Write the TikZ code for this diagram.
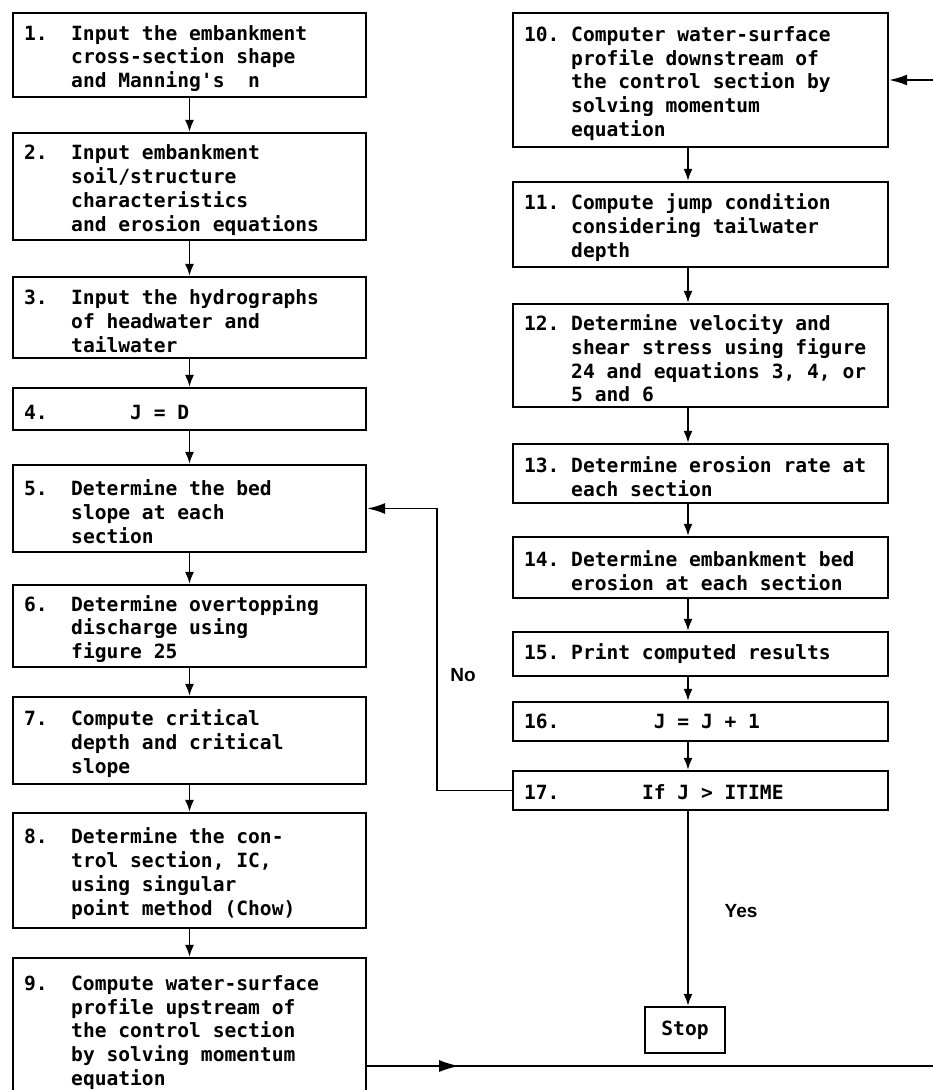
\documentclass[tikz,border=0pt]{standalone}
\usepackage{fontspec}
\newfontfamily\monofnt{DejaVu Sans Mono}
\newfontfamily\labfnt{Liberation Sans}
\usetikzlibrary{arrows.meta,decorations.markings,calc}
\newcommand\indt{\hphantom{0000}}
\newcommand\stepno[1]{\rule{0pt}{22pt}\rlap{#1}\indt}
\newcommand\monoset{\fontsize{19.6}{23.7}\selectfont\monofnt\bfseries}
\newcommand\monospaces{\spaceskip=\fontcharwd\font`\0\relax\xspaceskip=\spaceskip}
\begin{document}
\begin{tikzpicture}[x=1pt,y=-1pt,
  box/.style={draw, line width=2.3pt, inner xsep=11pt, inner ysep=0pt, align=left,
    font=\monoset, execute at begin node={\monospaces}},
  lbox/.style={box, minimum width=353pt, text width=331pt},
  rbox/.style={box, minimum width=375pt, text width=353pt},
  conn/.style={line width=1.8pt, -{Latex[length=12pt,width=9pt]}},
  hconn/.style={line width=1.8pt, -{Latex[length=18pt,width=11pt]}},
  lbl/.style={font=\fontsize{19}{22}\selectfont\labfnt\bfseries}
]
\useasboundingbox (0,0) rectangle (933,1090);

% left column
\node[lbox, minimum height=84pt] (n1) at (189.5,55) {\stepno{1.}Input the embankment\\\indt cross-section shape\\\indt and Manning's\hphantom{00}n};
\node[lbox, minimum height=107pt] (n2) at (189.5,186.5) {\stepno{2.}Input embankment\\\indt soil/structure\\\indt characteristics\\\indt and erosion equations};
\node[lbox, minimum height=81pt] (n3) at (189.5,317.5) {\stepno{3.}Input the hydrographs\\\indt of headwater and\\\indt tailwater};
\node[lbox, minimum height=42pt] (n4) at (189.5,409) {\rule{0pt}{22pt}\rlap{4.}\hphantom{000000000}J = D};
\node[lbox, minimum height=87pt] (n5) at (189.5,508.5) {\stepno{5.}Determine the bed\\\indt slope at each\\\indt section};
\node[lbox, minimum height=82pt] (n6) at (189.5,626) {\stepno{6.}Determine overtopping\\\indt discharge using\\\indt figure 25};
\node[lbox, minimum height=87pt] (n7) at (189.5,740.5) {\stepno{7.}Compute critical\\\indt depth and critical\\\indt slope};
\node[lbox, minimum height=115pt] (n8) at (189.5,870.5) {\stepno{8.}Determine the con-\\\indt trol section, IC,\\\indt using singular\\\indt point method (Chow)};
\node[lbox, minimum height=142pt] (n9) at (189.5,1029) {\stepno{9.}Compute water-surface\\\indt profile upstream of\\\indt the control section\\\indt by solving momentum\\\indt equation};

% right column
\node[rbox, minimum height=134pt] (n10) at (700.5,80) {\stepno{10.}Computer water-surface\\\indt profile downstream of\\\indt the control section by\\\indt solving momentum\\\indt equation};
\node[rbox, minimum height=85pt] (n11) at (700.5,224.5) {\stepno{11.}Compute jump condition\\\indt considering tailwater\\\indt depth};
\node[rbox, minimum height=103pt] (n12) at (700.5,355.5) {\stepno{12.}Determine velocity and\\\indt shear stress using figure\\\indt 24 and equations 3, 4, or\\\indt 5 and 6};
\node[rbox, minimum height=59pt] (n13) at (700.5,473.5) {\stepno{13.}Determine erosion rate at\\\indt each section};
\node[rbox, minimum height=61pt] (n14) at (700.5,567.5) {\stepno{14.}Determine embankment bed\\\indt erosion at each section};
\node[rbox, minimum height=44pt] (n15) at (700.5,654) {\rlap{15.}\indt Print computed results};
\node[rbox, minimum height=39pt] (n16) at (700.5,721.5) {\rlap{16.}\hphantom{00000000000}J = J + 1};
\node[rbox, minimum height=39pt] (n17) at (700.5,790.5) {\rule{0pt}{19pt}\rlap{17.}\hphantom{0000000000}If J > ITIME};
\node[box, inner xsep=0pt, minimum width=80pt, minimum height=46pt, align=center] (stop) at (685,1030) {Stop};

% labels
\node[lbl] (no) at (463,675) {No};
\node[lbl] (yes) at (741,911) {Yes};

% helper coordinates
\coordinate (rx) at (688,0);
\coordinate (lx) at (437,0);

% left column connectors
\draw[conn] (n1) -- (n2);
\draw[conn] (n2) -- (n3);
\draw[conn] (n3) -- (n4);
\draw[conn] (n4) -- (n5);
\draw[conn] (n5) -- (n6);
\draw[conn] (n6) -- (n7);
\draw[conn] (n7) -- (n8);
\draw[conn] (n8) -- (n9);

% right column connectors
\draw[conn] (n10.south -| rx) -- (n11.north -| rx);
\draw[conn] (n11.south -| rx) -- (n12.north -| rx);
\draw[conn] (n12.south -| rx) -- (n13.north -| rx);
\draw[conn] (n13.south -| rx) -- (n14.north -| rx);
\draw[conn] (n14.south -| rx) -- (n15.north -| rx);
\draw[conn] (n15.south -| rx) -- (n16.north -| rx);
\draw[conn] (n16.south -| rx) -- (n17.north -| rx);
\draw[conn] (n17.south -| rx) -- (stop.north -| rx);

% loop back (No)
\draw[hconn] (n17.west) -| (lx |- n5.east) -- (n5.east);

% 9 -> 10 (runs off the right edge)
\draw[hconn, postaction={decorate},
  decoration={markings, mark=at position 92pt with {\arrow{Latex[length=20pt,width=12pt]}}}]
  ([yshift=-37pt]n9.east) -- ++(600,0) |- (n10.east);
\end{tikzpicture}
\end{document}
